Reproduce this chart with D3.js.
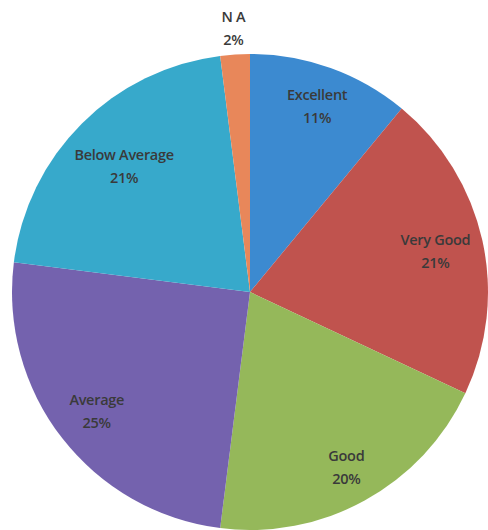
<!DOCTYPE html>
<html>
<head>
<meta charset="utf-8">
<script src="https://cdn.jsdelivr.net/npm/d3@7"></script>
<style>
  body { margin: 0; background: #fff; }
  .lbl { font-family: "Open Sans", "Liberation Sans", sans-serif; font-size: 14.5px; font-weight: 600; fill: #3a3a3a; letter-spacing: -0.3px; }
</style>
</head>
<body>
<div id="chart"></div>
<script>
// ratings, clockwise from 12 o'clock
var categories = ["Excellent", "Very Good", "Good", "Average", "Below Average", "N A"];
var percents = [11, 21, 20, 25, 21, 2];
var colors = ["#3c8ad0", "#c0534e", "#95b85a", "#7462ae", "#37a9cb", "#e8875a"];

var width = 488, height = 530;
var cx = 250, cy = 292, radius = 238;
var labelR = 200, outsideR = 265, lineGap = 23;

var svg = d3.select("#chart").append("svg")
  .attr("width", width)
  .attr("height", height);

var g = svg.append("g")
  .attr("transform", "translate(" + cx + "," + cy + ")");

var data = categories.map(function(c, i){ return {name: c, value: percents[i]}; });

var pie = d3.pie()
  .value(function(d){ return d.value; })
  .sort(null);

var arc = d3.arc().innerRadius(0).outerRadius(radius);
var arcs = pie(data);

g.selectAll("path.slice")
  .data(arcs)
  .enter().append("path")
  .attr("class", "slice")
  .attr("fill", function(d, i){ return colors[i]; })
  .attr("d", arc);

var labels = g.selectAll("text.lbl")
  .data(arcs)
  .enter().append("text")
  .attr("class", "lbl")
  .attr("text-anchor", "middle");

labels.append("tspan")
  .attr("x", 0)
  .text(function(d){ return d.data.name; });

labels.append("tspan")
  .attr("x", 0)
  .attr("dy", lineGap)
  .text(function(d){ return d.data.value + "%"; });

// best fit: pull label toward centre until its box sits inside the pie
labels.each(function(d){
  var el = d3.select(this);
  var a = (d.startAngle + d.endAngle) / 2;
  var b = this.getBBox();
  var small = d.data.value < 5;
  var r = small ? outsideR : labelR;
  if (!small) {
    while (r > 60) {
      var px = Math.sin(a) * r, py = -Math.cos(a) * r;
      var x0 = px - b.width / 2, x1 = px + b.width / 2;
      var y0 = py - b.height / 2, y1 = py + b.height / 2;
      var far = d3.max([[x0, y0], [x1, y0], [x0, y1], [x1, y1]], function(c){ return Math.hypot(c[0], c[1]); });
      if (far < radius - 8) break;
      r -= 2;
    }
  }
  var px = Math.sin(a) * r, py = -Math.cos(a) * r;
  // centre the two-line block on the point
  el.attr("transform", "translate(" + px + "," + (py - (b.y + b.height / 2)) + ")");
});
</script>
</body>
</html>
